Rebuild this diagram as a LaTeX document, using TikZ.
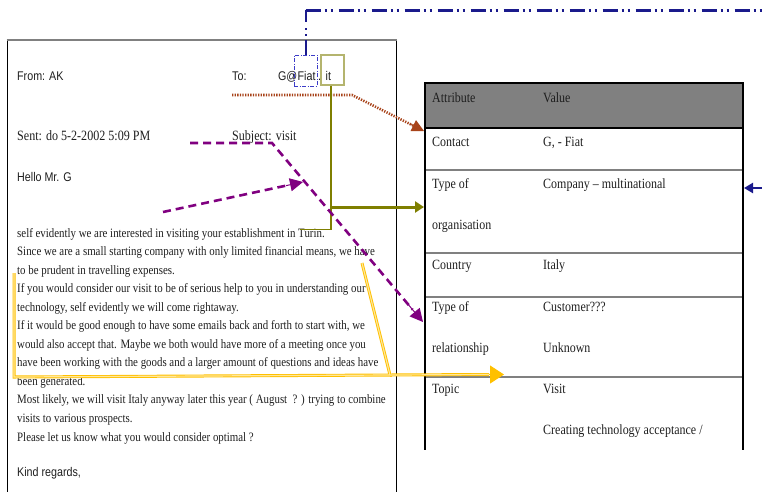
\documentclass[tikz,border=0pt]{standalone}
\usepackage{fontspec}
\setmainfont{Liberation Serif}[FakeStretch=0.85]
\setsansfont{Liberation Sans}[FakeStretch=0.85]
\usetikzlibrary{arrows.meta,calc}
\definecolor{navyc}{HTML}{1A1A8C}
\definecolor{boxblue}{HTML}{3C3CC8}
\definecolor{olivec}{HTML}{7F7F00}
\definecolor{olivelight}{HTML}{B4B46E}
\definecolor{brownc}{HTML}{A8431A}
\definecolor{purplec}{HTML}{800080}
\definecolor{goldc}{HTML}{FFC000}
\definecolor{goldin}{HTML}{FFE79A}
\definecolor{hdrgray}{HTML}{808080}
\definecolor{txtc}{HTML}{1E1E1E}
\begin{document}
\begin{tikzpicture}[x=1pt,y=-1pt,
  msans/.style={font=\sffamily\fontsize{12.6}{15}\selectfont, text=txtc, anchor=base west, inner sep=0pt},
  mserif/.style={font=\fontsize{14.2}{16}\selectfont, text=txtc, anchor=base west, inner sep=0pt},
  bodytxt/.style={font=\fontsize{12.8}{15}\selectfont, text=txtc, anchor=base west, inner sep=0pt},
  celltxt/.style={font=\fontsize{14.1}{16}\selectfont, text=txtc, anchor=base west, inner sep=0pt},
  sepline/.style={draw=hdrgray, line width=2pt},
  navyline/.style={draw=navyc, line width=3pt, dash pattern=on 15pt off 4pt on 2pt off 4pt on 2pt off 6pt},
  brownline/.style={draw=brownc, line width=2.6pt, dash pattern=on 1.3pt off 1.3pt},
  oliveline/.style={draw=olivec, line width=2.2pt},
  purpleline/.style={draw=purplec, line width=2.6pt, dash pattern=on 8pt off 5pt},
  golddbl/.style={draw=goldc, double=goldin, double distance=1.2pt, line width=0.9pt}
]
\useasboundingbox (0,0) rectangle (762,491);
\clip (0,0) rectangle (762,491);

% ---------- e-mail frame ----------
\draw[black, line width=0.8pt] (7.5,40) -- (7.5,495);
\draw[black, line width=0.8pt] (396,40) -- (396,495);
\draw[hdrgray, line width=2pt] (6.5,40) -- (397,40);

% header lines
\node[msans] (from) at (17,80) {From: AK};
\node[msans] (to) at (232,80) {To:};
\node[msans, anchor=base east] (gat) at (297.5,80) {G@};
\node[msans] (fiat) at (297.5,80) {Fiat};
\node[msans] (dot) at (318,80) {.};
\node[msans] (itt) at (325.5,80) {it};
\node[mserif] (sent) at (17,140) {Sent: do 5-2-2002 5:09 PM};
\node[mserif] (subj) at (232,140) {Subject: visit};
\node[msans] (hello) at (17,181) {Hello Mr. G};

% body
\node[bodytxt] (l1) at (17,237.0) {self evidently we are interested in visiting your establishment in Turin.};
\node[bodytxt] (l2) at (17,255.5) {Since we are a small starting company with only limited financial means, we have};
\node[bodytxt] (l3) at (17,274.1) {to be prudent in travelling expenses.};
\node[bodytxt] (l4) at (17,292.6) {If you would consider our visit to be of serious help to you in understanding our};
\node[bodytxt] (l5) at (17,311.2) {technology, self evidently we will come rightaway.};
\node[bodytxt] (l6) at (17,329.7) {If it would be good enough to have some emails back and forth to start with, we};
\node[bodytxt] (l7) at (17,348.3) {would also accept that. Maybe we both would have more of a meeting once you};
\node[bodytxt] (l8) at (17,366.8) {have been working with the goods and a larger amount of questions and ideas have};
\node[bodytxt] (l9) at (17,385.4) {been generated.};
\node[bodytxt] (l10) at (17,403.9) {Most likely, we will visit Italy anyway later this year ( August \ ? ) trying to combine};
\node[bodytxt] (l11) at (17,422.5) {visits to various prospects.};
\node[bodytxt] (l12) at (17,441.0) {Please let us know what you would consider optimal ?};
\node[msans] (kind) at (17,476) {Kind regards,};

% ---------- table ----------
\fill[hdrgray] (425,83) rectangle (743,128);
\draw[sepline] (425,170) -- (743,170);
\draw[sepline] (425,253) -- (743,253);
\draw[sepline] (425,296.5) -- (743,296.5);
\draw[hdrgray, line width=1.3pt] (425,377) -- (743,377);
\draw[black, line width=2.6pt] (424,128) -- (744,128);
\draw[black, line width=1.8pt] (424,83) -- (744,83);
\draw[black, line width=1.8pt] (425,82.5) -- (425,450);
\draw[black, line width=1.8pt] (743,82.5) -- (743,450);

\node[celltxt] (attr) at (432,102) {Attribute};
\node[celltxt] (val) at (543,102) {Value};
\node[celltxt] (c1) at (432,146) {Contact};
\node[celltxt] (v1) at (543,146) {G, - Fiat};
\node[celltxt] (c2) at (432,188) {Type of};
\node[celltxt] (v2) at (543,188) {Company – multinational};
\node[celltxt] (c2b) at (432,229) {organisation};
\node[celltxt] (c3) at (432,269.5) {Country};
\node[celltxt] (v3) at (543,269.5) {Italy};
\node[celltxt] (c4) at (432,311) {Type of};
\node[celltxt] (v4) at (543,311) {Customer???};
\node[celltxt] (c4b) at (432,352) {relationship};
\node[celltxt] (v4b) at (543,352) {Unknown};
\node[celltxt] (c5) at (432,393) {Topic};
\node[celltxt] (v5) at (543,393) {Visit};
\node[celltxt] (v5b) at (543,434) {Creating technology acceptance /};

% ---------- marker boxes ----------
\node[draw=boxblue, line width=0.8pt, dash pattern=on 4pt off 1.5pt on 1pt off 1.5pt,
      minimum width=23pt, minimum height=31pt, inner sep=0pt] (fiatbox) at (305.5,70.5) {};
\node[draw=olivelight, line width=1.2pt, minimum width=23pt, minimum height=30pt,
      inner sep=0pt] (itbox) at (332.5,70) {};

% ---------- coordinates ----------
\coordinate (bTop) at (305.5,10);
\coordinate (bEnd) at (780,10);
\coordinate (bIn) at (780,188);
\coordinate (tRight) at (744,188);
\coordinate (br1) at (232,95);
\coordinate (br2) at (352,95);
\coordinate (tContact) at (424,131);
\coordinate (oFoot) at (300,229.5);
\coordinate (oBranch) at (331,207);
\coordinate (tOrg) at (424,207);
\coordinate (p1) at (190,143);
\coordinate (p2) at (272,143);
\coordinate (tRel) at (423,322);
\coordinate (q1) at (163,212);
\coordinate (q2) at (303,182);
\coordinate (y1) at (362,263);
\coordinate (y2) at (390,375);
\coordinate (y3) at (14,377);
\coordinate (y4) at (14,273);
\coordinate (yNear) at (489,374.5);
\coordinate (tTopic) at (504,374.5);

% ---------- connectors ----------
\draw[navyline, line width=2pt] (fiatbox.north) -- (bTop);
\draw[navyline] (bTop) -- (bEnd);
\draw[draw=navyc, line width=2.6pt, -{Triangle[length=9pt,width=10pt]}] (bIn) -- (tRight);

\draw[brownline] (br1) -- (br2) -- ($(br2)!0.86!(tContact)$);
\draw[draw=brownc, line width=1pt, -{Triangle[length=12pt,width=12pt]}] ($(br2)!0.80!(tContact)$) -- (tContact);

\draw[oliveline, line width=1.8pt] ($(itbox.south)+(-1.5,0)$) |- (oFoot);
\draw[oliveline, line width=3pt, -{Triangle[length=9pt,width=11pt]}] (oBranch) -- (tOrg);

\draw[purpleline] (p1) -- (p2) -- ($(p2)!0.93!(tRel)$);
\draw[draw=purplec, line width=1pt, -{Triangle[length=13pt,width=13pt]}] ($(p2)!0.90!(tRel)$) -- (tRel);
\draw[purpleline] (q1) -- ($(q1)!0.9!(q2)$);
\draw[draw=purplec, line width=1pt, -{Triangle[length=13pt,width=13pt]}] ($(q1)!0.88!(q2)$) -- (q2);

\draw[golddbl] (y1) -- (y2) -- (y3) -- (y4);
\draw[golddbl] (y2) -- (yNear);
\draw[draw=goldc, line width=1pt, -{Triangle[length=14pt,width=18pt]}] (yNear) -- (tTopic);
\end{tikzpicture}
\end{document}
